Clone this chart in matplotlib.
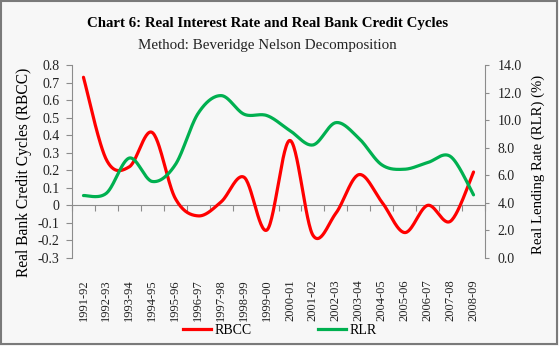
import numpy as np
import matplotlib
matplotlib.use("Agg")
import matplotlib.pyplot as plt
from matplotlib.patches import Rectangle
from matplotlib.lines import Line2D

years = ["1991-92", "1992-93", "1993-94", "1994-95", "1995-96", "1996-97",
         "1997-98", "1998-99", "1999-00", "2000-01", "2001-02", "2002-03",
         "2003-04", "2004-05", "2005-06", "2006-07", "2007-08", "2008-09"]
rbcc = [0.73, 0.26, 0.22, 0.415, 0.04, -0.06, 0.02, 0.16, -0.14, 0.37,
        -0.17, -0.045, 0.175, 0.02, -0.155, 0.0, -0.09, 0.19]
rlr = [4.53, 4.7, 7.25, 5.55, 6.76, 10.5, 11.78, 10.43, 10.33, 9.24,
       8.2, 9.82, 8.69, 6.76, 6.44, 6.92, 7.36, 4.58]
left_ticks = [0.8, 0.7, 0.6, 0.5, 0.4, 0.3, 0.2, 0.1, 0, -0.1, -0.2, -0.3]
right_ticks = [0, 2, 4, 6, 8, 10, 12, 14]


def smooth(y, n=30):
    """Excel-style Bezier smoothing (uniform Catmull-Rom)."""
    y = np.asarray(y, float)
    x = np.arange(len(y), dtype=float)
    P = np.column_stack([x, y])
    out = []
    for i in range(len(P) - 1):
        p0 = P[i - 1] if i > 0 else P[i]
        p1, p2 = P[i], P[i + 1]
        p3 = P[i + 2] if i + 2 < len(P) else P[i + 1]
        c1 = p1 + (p2 - p0) / 6
        c2 = p2 - (p3 - p1) / 6
        t = np.linspace(0, 1, n, endpoint=(i == len(P) - 2))[:, None]
        seg = ((1 - t) ** 3) * p1 + 3 * ((1 - t) ** 2) * t * c1 + 3 * (1 - t) * t ** 2 * c2 + t ** 3 * p2
        out.append(seg)
    s = np.vstack(out)
    return s[:, 0], s[:, 1]


W, H = 559, 346
fig = plt.figure(figsize=(W / 100, H / 100), dpi=100)
fig.patch.set_facecolor("#f7f7f7")

L, R, T, B = 72, 485, 65, 258
ax = fig.add_axes([L / W, 1 - B / H, (R - L) / W, (B - T) / H])
ax.set_facecolor("none")
ax2 = ax.twinx()

serif = "Liberation Serif"
gray = "#8c8c8c"

n = len(years)
xs, ys = smooth(rbcc)
ax.plot(xs, ys, color="#ff0000", lw=2.3, solid_capstyle="round", zorder=3)
xs2, ys2 = smooth(rlr)
ax2.plot(xs2, ys2, color="#00b050", lw=2.3, solid_capstyle="round", zorder=3)

ax.set_xlim(-0.5, n - 0.5)
ax.set_ylim(-0.3, 0.8)
ax2.set_ylim(0, 14)

for a in (ax, ax2):
    for s in a.spines.values():
        s.set_visible(False)

ax.spines["left"].set_visible(True)
ax.spines["left"].set_color(gray)
ax.spines["bottom"].set_visible(True)
ax.spines["bottom"].set_color(gray)
ax.spines["bottom"].set_position(("data", 0))
ax2.spines["right"].set_visible(True)
ax2.spines["right"].set_color(gray)

ax.set_yticks(left_ticks)
ax.set_yticklabels([f"{v:g}" if v != 0 else "0" for v in left_ticks])
ax.tick_params(axis="y", direction="out", length=4, color=gray, pad=5,
               labelsize=10, labelfontfamily=serif, labelcolor="#222222")
ax2.set_yticks(right_ticks)
ax2.set_yticklabels([f"{v:.1f}" for v in right_ticks])
ax2.tick_params(axis="y", direction="out", length=3, color=gray, pad=6,
                labelsize=10, labelfontfamily=serif, labelcolor="#222222")

ax.set_xticks(np.arange(-0.5, n, 1.0))
ax.set_xticklabels([])
ax.tick_params(axis="x", direction="out", length=4, color=gray)

for i, lab in enumerate(years):
    ax.text(i, -0.11, lab, transform=ax.get_xaxis_transform(), rotation=90,
            ha="center", va="top", fontsize=9, family=serif, color="#222222")

fig.text(267.5 / W, 1 - 23 / H,
         "Chart 6: Real Interest Rate and Real Bank Credit Cycles",
         ha="center", va="center", fontsize=10.7, fontweight="bold", family=serif)
fig.text(267.5 / W, 1 - 45 / H, "Method: Beveridge Nelson Decomposition",
         ha="center", va="center", fontsize=10.8, family=serif, color="#222222")

fig.text(24 / W, 1 - 172 / H, "Real Bank Credit Cycles (RBCC)", rotation=90,
         ha="center", va="center", fontsize=11.2, family=serif)
fig.text(538 / W, 1 - 164 / H, "Real Lending Rate (RLR) (%)", rotation=90,
         ha="center", va="center", fontsize=10.6, family=serif)

handles = [Line2D([], [], color="#ff0000", lw=2.3),
           Line2D([], [], color="#00b050", lw=2.3)]
fig.legend(handles, ["RBCC", "RLR"], loc="center", bbox_to_anchor=(280 / W, 1 - 330 / H),
           ncol=2, frameon=False, prop={"family": serif, "size": 10},
           handlelength=2.0, handletextpad=0.25, columnspacing=4.8)

fig.add_artist(Rectangle((0.5 / W, 2 / H), (W - 3) / W, (H - 2.5) / H,
                         transform=fig.transFigure, fill=False, edgecolor="#7a7a7a", lw=1.5))

fig.savefig("out.png", dpi=100, facecolor=fig.get_facecolor())
